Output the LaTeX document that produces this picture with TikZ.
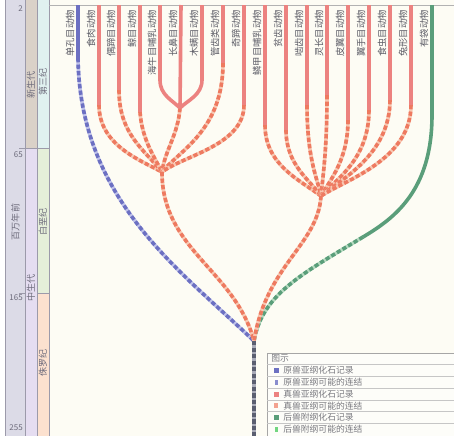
\documentclass[tikz,border=0pt]{standalone}
\usepackage{fontspec}
\newfontfamily\cjk{Noto Sans CJK SC}
\definecolor{bgc}{HTML}{FDFCF4}
\definecolor{cola}{HTML}{DCDBE7}
\definecolor{colba}{HTML}{DAD1C8}
\definecolor{colbb}{HTML}{E5DDF1}
\definecolor{colca}{HTML}{E0F1F0}
\definecolor{colcb}{HTML}{E5EFD9}
\definecolor{colcc}{HTML}{FCE1CF}
\definecolor{edge}{HTML}{9C9AAA}
\definecolor{blu}{HTML}{6C70C2}
\definecolor{blul}{HTML}{BEC1EA}
\definecolor{eur}{HTML}{EC8280}
\definecolor{eurd}{HTML}{EE7A60}
\definecolor{eurl}{HTML}{F8C8B2}
\definecolor{grn}{HTML}{5A9E7A}
\definecolor{grnl}{HTML}{B6DAC0}
\definecolor{kd}{HTML}{5A5E70}
\definecolor{kdl}{HTML}{A8AAB8}
\definecolor{txt}{HTML}{5C5C66}
\definecolor{sidetxt}{HTML}{6E6C7C}
\definecolor{legtxt}{HTML}{7A7A80}
\definecolor{legbg}{HTML}{FDFDF9}
\tikzset{
  lab/.style={font=\cjk\fontsize{7}{8}\selectfont, text=txt, rotate=90, anchor=east, inner sep=0pt},
  side/.style={font=\cjk\fontsize{6.8}{8}\selectfont, text=sidetxt, rotate=90, inner sep=0pt},
  num/.style={font=\cjk\fontsize{6}{7}\selectfont, text=sidetxt, anchor=east, inner sep=0pt},
  leg/.style={font=\cjk\fontsize{6.6}{7}\selectfont, text=legtxt, anchor=west, inner sep=0pt},
  bsolid/.style={draw=blu, line width=2.7pt},
  bdash/.style={preaction={draw=blul, line width=2.7pt}, draw=blu, line width=2.7pt, dash pattern=on 3.2pt off 1.7pt},
  rsolid/.style={draw=eur, line width=2.7pt},
  rdash/.style={preaction={draw=eurl, line width=2.7pt}, draw=eurd, line width=2.7pt, dash pattern=on 3.2pt off 1.7pt},
  gsolid/.style={draw=grn, line width=2.7pt},
  gdash/.style={preaction={draw=grnl, line width=2.7pt}, draw=grn, line width=2.7pt, dash pattern=on 3.2pt off 1.7pt},
  kdash/.style={preaction={draw=kdl, line width=2.7pt}, draw=kd, line width=2.7pt, dash pattern=on 3.2pt off 1.7pt},
  thin/.style={draw=edge, line width=0.4pt},
}
\begin{document}
\begin{tikzpicture}[x=0.75pt,y=-0.75pt]
\useasboundingbox (0,0) rectangle (454,436);
% background
\fill[white] (0,0) rectangle (454,436);
\fill[bgc] (49,0) rectangle (454,436);
% left time panel
\fill[cola] (5,0) rectangle (25,436);
\fill[colba] (25,0) rectangle (37,148);
\fill[colbb] (25,148) rectangle (37,436);
\fill[colca] (37,0) rectangle (49,148);
\fill[colcb] (37,148) rectangle (49,293);
\fill[colcc] (37,293) rectangle (49,436);
\draw[thin] (5,0) -- (5,436) (25,0) -- (25,436) (37,0) -- (37,436) (49,0) -- (49,436);
\draw[thin] (19,148) -- (49,148);
\draw[thin] (19,293) -- (25,293) (37,293) -- (49,293);
\draw[draw=gray!60, line width=0.4pt] (49,5) -- (454,5);
\node[num] (m2) at (23,9) {2};
\node[num] (m65) at (23,155) {65};
\node[num] (m165) at (23,298) {165};
\node[num] (m255) at (23,428) {255};
\node[side] (myr) at (15.5,222) {百万年前};
\node[side] (ceno) at (31,85) {新生代};
\node[side] (meso) at (31,288) {中生代};
\node[side] (tert) at (43,82) {第三纪};
\node[side] (cret) at (43,222) {白垩纪};
\node[side] (jura) at (43,363) {侏罗纪};
% junction coordinates
\coordinate (S) at (180,108);
\coordinate (J1) at (162,172);
\coordinate (J2) at (321,196);
\coordinate (J0) at (254,341);
\coordinate (G) at (363,237);
\coordinate (bot) at (254,436);
% line tops and solid ends
\foreach \n/\x/\e in {1/78/58,2/99/105,3/119/90,4/140/112,5/160/80,6/181/97,7/202/80,8/223/63,9/244/105,
  10/265/125,11/286/130,12/307/105,13/327/95,14/348/120,15/369/110,16/390/100,17/411/105,18/432/115}{
  \coordinate (t\n) at (\x,5);
  \coordinate (e\n) at (\x,\e);
}
% --- blue (prototheria)
\draw[bdash] (e1) .. controls (80,200) and (180,270) .. (J0);
\draw[bsolid] (t1) -- (e1);
% --- green (metatheria)
\draw[gdash] (G) .. controls (300,275) and (262,295) .. (J0);
\draw[gsolid] (t18) -- (e18) .. controls (432,190) and (395,218) .. (G);
% --- red left group
\draw[rdash] (e2) .. controls (99,145) and (140,160) .. (J1);
\draw[rdash] (e3) .. controls (119,135) and (145,150) .. (J1);
\draw[rdash] (e4) .. controls (142,140) and (155,158) .. (J1);
\draw[rdash] (S) .. controls (178,135) and (165,150) .. (J1);
\draw[rdash] (e8) .. controls (223,130) and (180,150) .. (J1);
\draw[rdash] (e9) .. controls (244,145) and (185,155) .. (J1);
\draw[rdash] (J1) .. controls (162,250) and (235,270) .. (J0);
\foreach \n in {2,3,4,8,9}{\draw[rsolid] (t\n) -- (e\n);}
\draw[rsolid] (t5) -- (e5) .. controls (160,95) and (172,100) .. (S);
\draw[rsolid] (t6) -- (S);
\draw[rsolid] (t7) -- (e7) .. controls (202,95) and (188,100) .. (S);
% --- red right group
\draw[rdash] (e10) .. controls (265,165) and (300,180) .. (J2);
\draw[rdash] (e11) .. controls (286,165) and (310,180) .. (J2);
\draw[rdash] (e12) .. controls (307,160) and (318,180) .. (J2);
\draw[rdash] (e13) .. controls (327,150) and (323,175) .. (J2);
\draw[rdash] (e14) .. controls (348,160) and (330,180) .. (J2);
\draw[rdash] (e15) .. controls (369,160) and (335,180) .. (J2);
\draw[rdash] (e16) .. controls (390,155) and (340,180) .. (J2);
\draw[rdash] (e17) .. controls (411,160) and (345,180) .. (J2);
\draw[rdash] (J2) .. controls (318,245) and (266,265) .. (J0);
\foreach \n in {10,...,17}{\draw[rsolid] (t\n) -- (e\n);}
% --- common stem
\draw[kdash] (J0) -- (bot);
% taxa labels
\foreach \n/\x/\t in {1/70/单孔目动物,2/91/食肉动物,3/111/偶蹄目动物,4/132/鲸目动物,5/152/海牛目哺乳动物,
  6/173/长鼻目动物,7/194/木螨目动物,8/215/管齿类动物,9/236/奇蹄动物,10/257/鳞甲目哺乳动物,
  11/278/贫齿动物,12/299/啮齿目动物,13/319/灵长目动物,14/340/皮翼目动物,15/361/翼手目动物,
  16/382/食虫目动物,17/403/兔形目动物,18/424/有袋动物}{
  \node[lab] (n\n) at (\x,10) {\t};
}
% legend
\fill[legbg] (267,353) rectangle (460,440);
\draw[draw=gray!70, line width=0.5pt] (460,353) -- (267,353) -- (267,440);
\foreach \y in {364.5,376.3,388.1,399.9,411.7,423.5}{\draw[draw=gray!45, line width=0.4pt] (267,\y) -- (460,\y);}
\node[leg] (lh) at (271,358.7) {图示};
\fill[blu] (273.5,367.9) rectangle (278.5,372.9);
\node[leg] (l1) at (283,370.4) {原兽亚纲化石记录};
\fill[blu!80] (274.5,379.7) rectangle (277.5,384.7);
\node[leg] (l2) at (283,382.2) {原兽亚纲可能的连结};
\fill[eur] (273.5,391.5) rectangle (278.5,396.5);
\node[leg] (l3) at (283,394) {真兽亚纲化石记录};
\fill[eurd!70!white] (274,403.3) rectangle (278,408.3);
\node[leg] (l4) at (283,405.8) {真兽亚纲可能的连结};
\fill[grn] (273.5,415.1) rectangle (278.5,420.1);
\node[leg] (l5) at (283,417.6) {后兽附纲化石记录};
\fill[grn!60!green!70!white] (274.5,426.9) rectangle (277.5,431.9);
\node[leg] (l6) at (283,429.4) {后兽附纲可能的连结};
\end{tikzpicture}
\end{document}
